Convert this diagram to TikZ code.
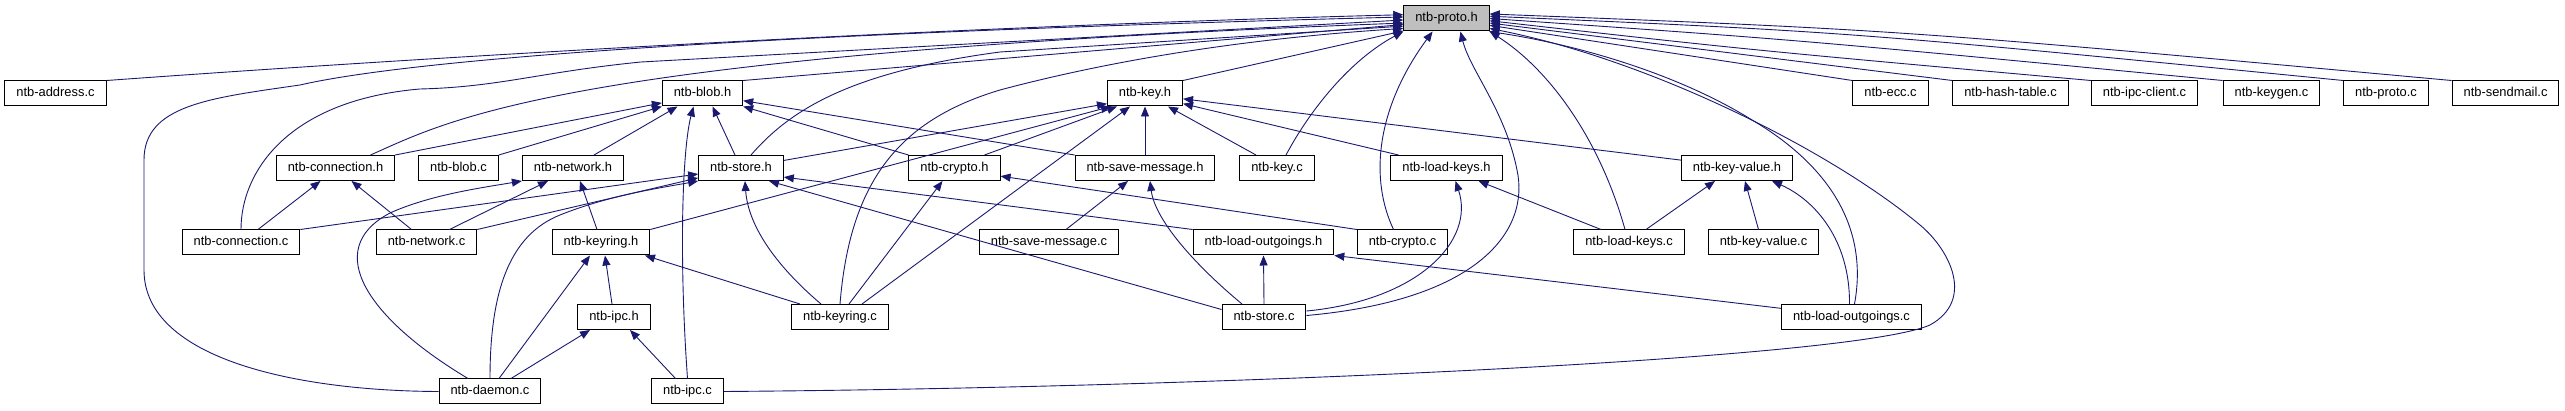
\documentclass[tikz,border=0pt]{standalone}
\usepackage{fontspec}
\setmainfont{Liberation Sans}
\usetikzlibrary{arrows.meta}
\definecolor{edgeblue}{HTML}{191970}
\definecolor{focusgray}{HTML}{BFBFBF}
\begin{document}
\begin{tikzpicture}[x=1pt,y=-1pt,
  file/.style={draw=black,line width=1pt,fill=white,font=\fontsize{12.9}{14}\selectfont,
    inner xsep=11.5pt,inner ysep=0pt,minimum height=25pt,text height=9.4pt,text depth=2.6pt},
  inc/.style={draw=edgeblue,line width=0.9pt,-{Triangle[length=10pt,width=8pt]}}]
\useasboundingbox (0,0) rectangle (2565,411);
\node[file,fill=focusgray] (protoh) at (1446.5,18.5) {ntb-proto.h};
\node[file] (addressc) at (55.5,93.5) {ntb-address.c};
\node[file] (blobh) at (702.5,93.5) {ntb-blob.h};
\node[file] (keyh) at (1145,93.5) {ntb-key.h};
\node[file] (eccc) at (1890.5,93.5) {ntb-ecc.c};
\node[file] (hashtablec) at (2010.5,93.5) {ntb-hash-table.c};
\node[file] (ipcclientc) at (2144.5,93.5) {ntb-ipc-client.c};
\node[file] (keygenc) at (2271.5,93.5) {ntb-keygen.c};
\node[file] (protoc) at (2386,93.5) {ntb-proto.c};
\node[file] (sendmailc) at (2505.5,93.5) {ntb-sendmail.c};
\node[file] (connectionh) at (335.5,168) {ntb-connection.h};
\node[file] (blobc) at (458.5,168) {ntb-blob.c};
\node[file] (networkh) at (573,168) {ntb-network.h};
\node[file] (storeh) at (741,168) {ntb-store.h};
\node[file] (cryptoh) at (954.5,168) {ntb-crypto.h};
\node[file] (savemessageh) at (1145,168) {ntb-save-message.h};
\node[file] (keyc) at (1277,168) {ntb-key.c};
\node[file] (loadkeysh) at (1446.5,168) {ntb-load-keys.h};
\node[file] (keyvalueh) at (1737,168) {ntb-key-value.h};
\node[file] (connectionc) at (241,242.5) {ntb-connection.c};
\node[file] (networkc) at (426.5,242.5) {ntb-network.c};
\node[file] (keyringh) at (601,242.5) {ntb-keyring.h};
\node[file] (savemessagec) at (1049,242.5) {ntb-save-message.c};
\node[file] (loadoutgoingsh) at (1263.5,242.5) {ntb-load-outgoings.h};
\node[file] (cryptoc) at (1402.5,242.5) {ntb-crypto.c};
\node[file] (loadkeysc) at (1629,242.5) {ntb-load-keys.c};
\node[file] (keyvaluec) at (1763.5,242.5) {ntb-key-value.c};
\node[file] (ipch) at (614,317) {ntb-ipc.h};
\node[file] (keyringc) at (840,317) {ntb-keyring.c};
\node[file] (storec) at (1264,317) {ntb-store.c};
\node[file] (loadoutgoingsc) at (1851.5,317) {ntb-load-outgoings.c};
\node[file] (daemonc) at (490,391.5) {ntb-daemon.c};
\node[file] (ipcc) at (687.5,391.5) {ntb-ipc.c};
% everything that includes ntb-proto.h
\draw[inc] (addressc.north east) .. controls (500,52) and (1000,25) .. (protoh.175);
\draw[inc] (daemonc.west) .. controls (300,391) and (144,360) .. (144,270) -- (144,160)
  .. controls (144,105) and (210,98) .. (300,85) .. controls (400,62) and (700,35) .. (protoh.178);
\draw[inc] (connectionc.north) .. controls (241,170) and (290,100) .. (420,89)
  .. controls (500,87) and (540,72) .. (641,62) -- (protoh.182);
\draw[inc] ([xshift=35]connectionh.north) .. controls (450,120) and (560,55) .. (protoh.186);
\draw[inc] (blobh.north east) -- (protoh.188);
\draw[inc] ([xshift=10]storeh.north) .. controls (790,110) and (850,72) .. (1000,52) -- (protoh.190);
\draw[inc] (keyringc.north) .. controls (850,180) and (900,120) .. (1000,90)
  .. controls (1150,50) and (1300,35) .. (protoh.193);
\draw[inc] (keyh.north east) -- (protoh.196);
\draw[inc] ([xshift=9]keyc.north) .. controls (1310,110) and (1350,60) .. (protoh.south west);
\draw[inc] ([xshift=-9]cryptoc.north) .. controls (1370,180) and (1375,110) .. (protoh.223);
\draw[inc] (storec.2) .. controls (1480,300) and (1530,230) .. (1517,170)
  .. controls (1505,110) and (1470,70) .. (protoh.317);
\draw[inc] ([xshift=-4]loadkeysc.north) .. controls (1600,140) and (1550,70) .. (protoh.south east);
\draw[inc] ([xshift=3]loadoutgoingsc.north) .. controls (1870,220) and (1820,160) .. (1752,120)
  .. controls (1680,75) and (1580,45) .. (protoh.343);
\draw[inc] (ipcc.east) .. controls (1200,388) and (1850,360) .. (1930,325)
  .. controls (1975,300) and (1950,250) .. (1920,225) .. controls (1830,150) and (1650,60) .. (protoh.347);
\draw[inc] (eccc.north west) -- (protoh.351);
\draw[inc] (hashtablec.north west) -- (protoh.354);
\draw[inc] (ipcclientc.north west) .. controls (1750,50) .. (protoh.357);
\draw[inc] (keygenc.north west) .. controls (1800,40) .. (protoh.0);
\draw[inc] (protoc.north west) .. controls (1850,32) .. (protoh.3);
\draw[inc] (sendmailc.north west) .. controls (1900,30) .. (protoh.6);
% headers one level down
\draw[inc] (connectionh.north east) -- (blobh.193);
\draw[inc] (blobc.north east) -- (blobh.south west);
\draw[inc] ([xshift=21]networkh.north) -- ([xshift=-25]blobh.south);
\draw[inc] (ipcc.north) .. controls (679,260) and (682,150) .. ([xshift=-9]blobh.south);
\draw[inc] ([xshift=-6]storeh.north) -- ([xshift=10]blobh.south);
\draw[inc] (cryptoh.north west) -- (blobh.south east);
\draw[inc] (savemessageh.north west) -- (blobh.350);
\draw[inc] (storeh.10) -- (keyh.195);
\draw[inc] (keyringh.north east) -- ([xshift=-34]keyh.south);
\draw[inc] ([xshift=30]cryptoh.north) -- ([xshift=-28]keyh.south);
\draw[inc] ([xshift=22]keyringc.north) -- ([xshift=-15]keyh.south);
\draw[inc] (savemessageh.north) -- (keyh.south);
\draw[inc] ([xshift=-21]keyc.north) -- ([xshift=23]keyh.south);
\draw[inc] ([xshift=-48]loadkeysh.north) -- (keyh.345);
\draw[inc] (keyvalueh.172) -- (keyh.352);
\draw[inc] ([xshift=17]connectionc.north) -- ([xshift=-15]connectionh.south);
\draw[inc] ([xshift=-15]networkc.north) -- ([xshift=16]connectionh.south);
\draw[inc] ([xshift=23]networkc.north) -- ([xshift=-25]networkh.south);
\draw[inc] ([xshift=-4]keyringh.north) -- ([xshift=7]networkh.south);
\draw[inc] ([xshift=-22]daemonc.north) .. controls (370,320) and (320,250) .. (390,213)
  .. controls (430,195) and (480,188) .. (networkh.south west);
\draw[inc] (connectionc.north east) -- (storeh.188);
\draw[inc] (networkc.north east) -- (storeh.193);
\draw[inc] (daemonc.north) .. controls (490,290) and (510,235) .. (560,215)
  .. controls (610,195) and (660,188) .. (storeh.south west);
\draw[inc] ([xshift=-19]keyringc.north) .. controls (775,265) and (748,225) .. ([xshift=4]storeh.south);
\draw[inc] (storec.170) -- ([xshift=28]storeh.south);
\draw[inc] (loadoutgoingsh.north west) -- (storeh.348);
\draw[inc] ([xshift=-40]keyringc.north) -- ([xshift=44]keyringh.south);
\draw[inc] ([xshift=-2]ipch.north) -- ([xshift=4]keyringh.south);
\draw[inc] ([xshift=9]daemonc.north) -- ([xshift=-11]keyringh.south);
\draw[inc] ([xshift=21]daemonc.north) -- ([xshift=-24]ipch.south);
\draw[inc] ([xshift=-12]ipcc.north) -- ([xshift=16]ipch.south);
\draw[inc] ([xshift=9]keyringc.north) -- ([xshift=-12]cryptoh.south);
\draw[inc] (cryptoc.north west) -- (cryptoh.350);
\draw[inc] ([xshift=17]savemessagec.north) -- ([xshift=-17]savemessageh.south);
\draw[inc] ([xshift=-22]storec.north) .. controls (1195,265) and (1155,220) .. ([xshift=5]savemessageh.south);
\draw[inc] (storec.north) -- (loadoutgoingsh.south);
\draw[inc] (loadoutgoingsc.173) -- (loadoutgoingsh.south east);
\draw[inc] (storec.8) .. controls (1420,300) and (1475,240) .. ([xshift=9]loadkeysh.south);
\draw[inc] ([xshift=-28]loadkeysc.north) -- ([xshift=32]loadkeysh.south);
\draw[inc] ([xshift=17]loadkeysc.north) -- ([xshift=-22]keyvalueh.south);
\draw[inc] ([xshift=-5]keyvaluec.north) -- ([xshift=8]keyvalueh.south);
\draw[inc] ([xshift=-2]loadoutgoingsc.north) .. controls (1850,240) and (1815,200) .. ([xshift=35]keyvalueh.south);
\end{tikzpicture}
\end{document}
